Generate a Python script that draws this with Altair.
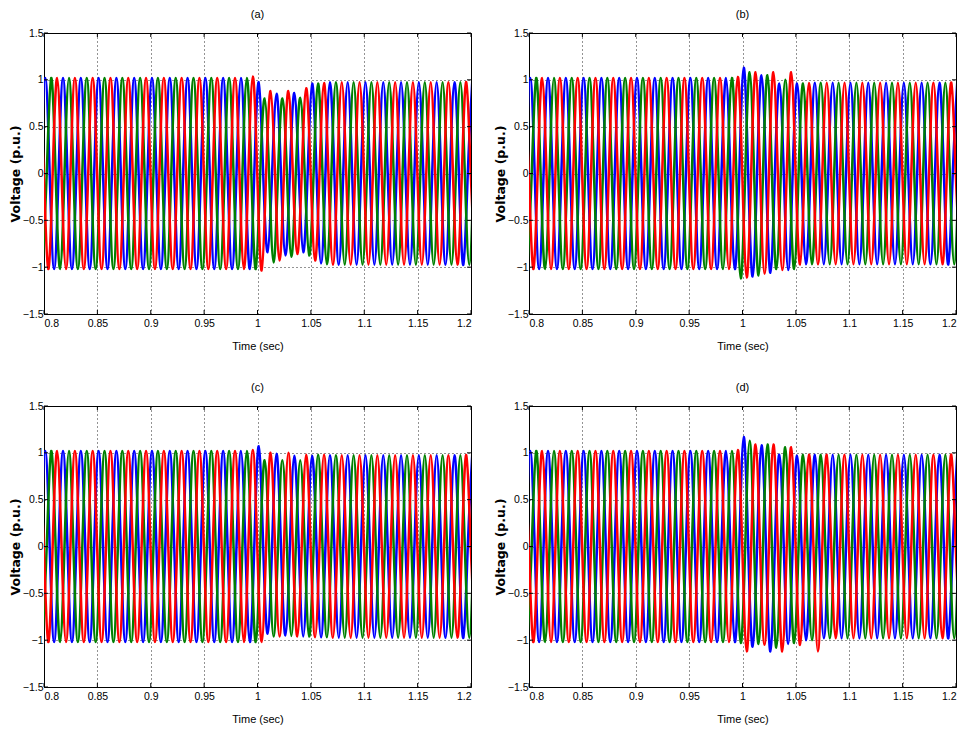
import math
import altair as alt
import pandas as pd

# ---------------- data ----------------
FREQ_HZ = 60                      # 24 cycles between 0.8 s and 1.2 s
T_START, T_END = 0.8, 1.2
TRANSIENT_FROM = 0.995            # first extremum listed in the transient arrays
# electrical angle (deg) of each phase at t = 0.8 s
PHASE_ANGLE = {"A": 65, "B": -55, "C": 185}
PHASE_COLOR = {"A": "#0000ff", "B": "#008000", "C": "#ff0000"}

X_TICKS = [0.8, 0.85, 0.9, 0.95, 1.0, 1.05, 1.1, 1.15, 1.2]
Y_TICKS = [-1.5, -1, -0.5, 0, 0.5, 1, 1.5]

# signed half-cycle peaks after 0.995 s (then steady-state amplitude)
# panel (a)
pre_a, post_a = 1.02, 0.975
a_blue = [0.975, -0.84, 0.85, -0.875, 0.86, -0.84, 0.96, -0.96]
a_green = [-1.02, 0.80, -0.95, 0.80, -0.89, 0.81, -0.875, 0.96, -0.97]
a_red = [1.035, -1.035, 0.88, -0.93, 0.88, -0.86, 0.91, -0.93, 0.965]
# panel (b)
pre_b, post_b = 1.02, 0.97
b_blue = [1.13, -1.10, 1.05, -1.06, 0.96, -1.03, 0.96, -0.97]
b_green = [-1.12, 1.08, -1.09, 1.05, -1.02, 1.0, -1.02, 0.96, -0.97]
b_red = [1.03, -1.11, 1.08, -1.07, 1.08, -1.03, 1.08, -0.97, 0.965]
# panel (c)
pre_c, post_c = 1.02, 0.975
c_blue = [1.07, -0.93, 0.99, -0.95, 0.97, -0.96, 0.97, -0.97]
c_green = [-1.02, 0.92, -0.96, 0.92, -0.955, 0.92, -0.96, 0.98, -0.97]
c_red = [1.03, -1.02, 1.0, -0.96, 1.0, -0.96, 0.98, -0.97, 0.98]
# panel (d)
pre_d, post_d = 1.02, 0.98
d_blue = [1.17, -1.07, 1.08, -1.12, 0.98, -1.04, 0.97, -1.0, 0.98, -0.98]
d_green = [-1.03, 1.13, -1.04, 1.09, -1.08, 1.06, -1.03, 0.98, -1.0, 0.98]
d_red = [1.03, -1.12, 1.09, -1.05, 1.09, -1.12, 1.06, -1.05, 0.98, -1.12, 0.98]

FONT = "Liberation Sans, Arial, sans-serif"
YTITLE_FONT = "DejaVu Sans, Verdana, sans-serif"
W, H = 427, 281
TICK_LEN = 4


def phase_points(phase, pre, post, transient):
    """Zero crossings and half-cycle peaks of one phase."""
    deg_per_s = 360.0 * FREQ_HZ
    off = PHASE_ANGLE[phase]
    span = (T_END - T_START) * deg_per_s
    k0 = math.ceil((off - 100) / 90)
    k1 = math.floor((off + span + 100) / 90)
    rows, idx = [], 0
    for k in range(k0, k1 + 1):
        t = T_START + (90 * k - off) / deg_per_s
        m = k % 4
        if m in (0, 2):
            v = 0.0
        else:
            sign = 1 if m == 1 else -1
            if t < TRANSIENT_FROM:
                amp = pre
            elif idx < len(transient):
                amp = abs(transient[idx])
                idx += 1
            else:
                amp = post
            v = sign * amp
        rows.append({"t": t, "v": v, "phase": phase})
    return rows


xs = alt.Scale(domain=[T_START, T_END], nice=False, zero=False)
ys = alt.Scale(domain=[-1.5, 1.5], nice=False, zero=False)

x_axis = alt.Axis(values=X_TICKS, format="~g", title="Time (sec)", grid=True,
                  gridColor="black", gridDash=[1, 3], gridOpacity=0.85,
                  ticks=False, domain=False, labelPadding=4,
                  labelFont=FONT, labelFontSize=10.5, labelColor="black",
                  titleFont=FONT, titleFontSize=11, titleFontWeight="normal",
                  titleColor="black", titlePadding=12)
y_axis = alt.Axis(values=Y_TICKS, format="~g", title="Voltage (p.u.)", grid=True,
                  gridColor="black", gridDash=[1, 3], gridOpacity=0.85,
                  ticks=False, domain=False, labelPadding=1,
                  labelFont=FONT, labelFontSize=10.5, labelColor="black",
                  titleFont=YTITLE_FONT, titleFontSize=12.5, titleFontWeight="bold",
                  titleColor="black", titlePadding=0)

xtick_df = pd.DataFrame({"t": X_TICKS})
ytick_df = pd.DataFrame({"v": Y_TICKS})


def X(field):
    return alt.X(field, scale=xs, axis=x_axis)


def Y(field):
    return alt.Y(field, scale=ys, axis=y_axis)


def inward_ticks():
    """Matlab-style inward ticks on all four sides of the box."""
    rule = dict(color="black", strokeWidth=1)
    top = alt.Chart(xtick_df).mark_rule(**rule).encode(
        x=X("t:Q"), y=alt.value(0), y2=alt.value(TICK_LEN))
    bottom = alt.Chart(xtick_df).mark_rule(**rule).encode(
        x=X("t:Q"), y=alt.value(H), y2=alt.value(H - TICK_LEN))
    left = alt.Chart(ytick_df).mark_rule(**rule).encode(
        y=Y("v:Q"), x=alt.value(0), x2=alt.value(TICK_LEN))
    right = alt.Chart(ytick_df).mark_rule(**rule).encode(
        y=Y("v:Q"), x=alt.value(W), x2=alt.value(W - TICK_LEN))
    return [top, bottom, left, right]


def panel(letter, pre, post, blue, green, red):
    rows = (phase_points("A", pre, post, blue)
            + phase_points("B", pre, post, green)
            + phase_points("C", pre, post, red))
    df = pd.DataFrame(rows)
    layers = []
    for ph in ["A", "B", "C"]:
        layers.append(
            alt.Chart(df)
            .transform_filter(alt.datum.phase == ph)
            .mark_line(strokeWidth=2.5, interpolate="natural", clip=True)
            .encode(x=X("t:Q"), y=Y("v:Q"), color=alt.value(PHASE_COLOR[ph]))
        )
    layers += inward_ticks()
    return (alt.layer(*layers)
            .properties(width=W, height=H,
                        title=alt.TitleParams(text=f"({letter})", font=FONT,
                                              fontSize=11, fontWeight="normal",
                                              color="black", offset=8)))


pa = panel("a", pre_a, post_a, a_blue, a_green, a_red)
pb = panel("b", pre_b, post_b, b_blue, b_green, b_red)
pc = panel("c", pre_c, post_c, c_blue, c_green, c_red)
pd_ = panel("d", pre_d, post_d, d_blue, d_green, d_red)

chart = (alt.vconcat(alt.hconcat(pa, pb, spacing=21),
                     alt.hconcat(pc, pd_, spacing=21), spacing=29)
         .properties(padding={"left": 0, "top": 0, "right": 0, "bottom": 0},
                     background="white")
         .configure_view(stroke="black", strokeWidth=1))

chart.save("out.html", embed_options={"renderer": "svg", "actions": False})
